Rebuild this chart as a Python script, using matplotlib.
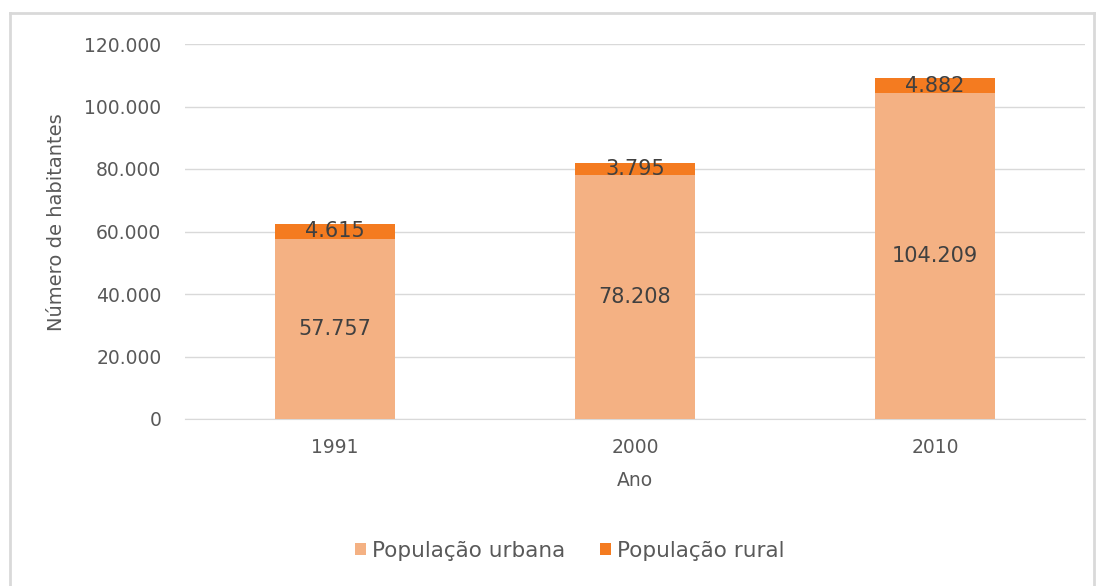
import matplotlib
matplotlib.use("Agg")
import matplotlib.pyplot as plt
from matplotlib.lines import Line2D

anos = ["1991", "2000", "2010"]
urbana = [57757, 78208, 104209]
rural = [4615, 3795, 4882]
yticks = [0, 20000, 40000, 60000, 80000, 100000, 120000]

def fmt(v):
    return f"{v:,}".replace(",", ".")

plt.rcParams['font.family'] = ['DejaVu Sans']
txt = '#595959'
c_urb = '#F4B183'
c_rur = '#F47B20'

fig = plt.figure(figsize=(11.02, 5.86), dpi=100)
W, H = 1102, 586
fx = lambda p: p / W
fy = lambda p: 1 - p / H
for xs, ys in [([10, 10], [13, 586]), ([10, 1094], [13, 13]), ([1094, 1094], [13, 586])]:
    fig.add_artist(Line2D([fx(v) for v in xs], [fy(v) for v in ys], transform=fig.transFigure,
                          color='#D9D9D9', linewidth=2))

ax = fig.add_axes([fx(185), fy(419), 900 / W, 375 / H])
x = list(range(len(anos)))
b1 = ax.bar(x, urbana, width=0.4, color=c_urb, label='População urbana', zorder=3)
b2 = ax.bar(x, rural, width=0.4, bottom=urbana, color=c_rur, label='População rural', zorder=3)
for i in x:
    ax.text(i, urbana[i] / 2, fmt(urbana[i]), ha='center', va='center', fontsize=15, color='#404040', zorder=4)
    ax.text(i, urbana[i] + rural[i] / 2, fmt(rural[i]), ha='center', va='center', fontsize=15,
            color='#404040', zorder=4)
ax.set_xlim(-0.5, 2.5)
ax.set_ylim(0, 120000)
ax.set_yticks(yticks)
ax.set_yticklabels([fmt(v) for v in yticks])
ax.set_xticks(x)
ax.set_xticklabels(anos)
ax.tick_params(axis='both', length=0, labelsize=13.5, labelcolor=txt)
ax.tick_params(axis='y', pad=17)
ax.tick_params(axis='x', pad=14)
ax.grid(axis='y', color='#D9D9D9', linewidth=1, zorder=0)
for s in ['top', 'right', 'left']:
    ax.spines[s].set_visible(False)
ax.spines['bottom'].set_color('#D9D9D9')
ax.set_xlabel('Ano', fontsize=13.5, color=txt, labelpad=10)
ax.set_ylabel('Número de habitantes', fontsize=14, color=txt)
ax.yaxis.set_label_coords((66 - 185) / 900, 0.5 + 9 / 375)
fig.legend(handles=[b1, b2], loc='center', bbox_to_anchor=(fx(570), fy(551)), ncol=2, frameon=False,
           fontsize=15.5, labelcolor=txt, handlelength=0.5, handleheight=0.5, handletextpad=0.3,
           columnspacing=1.6)
fig.savefig('out.png', dpi=100)
